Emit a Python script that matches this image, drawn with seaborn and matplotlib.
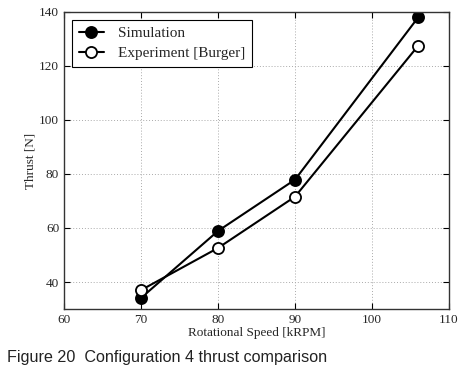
import matplotlib
matplotlib.use("Agg")
import matplotlib.pyplot as plt
import seaborn as sns
import pandas as pd

# data
speed = [70, 80, 90, 106]
thrust_sim = [34.1, 58.9, 77.9, 138.0]
thrust_exp = [37.0, 52.6, 71.6, 127.5]

veri = pd.DataFrame({"speed": speed, "sim": thrust_sim, "exp": thrust_exp})

sns.set_style("ticks")
plt.rcParams["font.family"] = ["Liberation Serif", "DejaVu Serif"]

fig = plt.figure(figsize=(4.62, 3.71), dpi=100)
ax = fig.add_axes([0.1385, 0.167, 0.8335, 0.801])

sns.lineplot(data=veri, x="speed", y="sim", ax=ax, color="black", lw=1.5,
             marker="o", markersize=8, markerfacecolor="black",
             markeredgecolor="black", markeredgewidth=1.3, label="Simulation")
sns.lineplot(data=veri, x="speed", y="exp", ax=ax, color="black", lw=1.5,
             marker="o", markersize=8, markerfacecolor="white",
             markeredgecolor="black", markeredgewidth=1.3,
             label="Experiment [Burger]")

ax.set_xlim(60, 110)
ax.set_ylim(30, 140)
ax.set_xticks([60, 70, 80, 90, 100, 110])
ax.set_yticks([40, 60, 80, 100, 120, 140])
ax.grid(True, ls=(0, (1, 2)), color="#aaaaaa", lw=0.7)
ax.tick_params(direction="in", length=4, labelsize=9.5, color="black",
               top=True, right=True)
for s in ax.spines.values():
    s.set_color("#333333")
    s.set_linewidth(1.0)

ax.set_xlabel("Rotational Speed [kRPM]", fontsize=9.5, labelpad=1)
ax.set_ylabel("Thrust [N]", fontsize=9.5, labelpad=2)

leg = ax.legend(loc="upper left", fontsize=11, frameon=True, fancybox=False,
                edgecolor="black", framealpha=1, borderaxespad=0.5,
                handlelength=1.7, handletextpad=0.9, labelspacing=0.4,
                borderpad=0.45)
leg.get_frame().set_linewidth(0.8)

fig.text(0.015, 0.025, "Figure 20  Configuration 4 thrust comparison",
         fontsize=11.6, family=["Liberation Sans", "DejaVu Sans"], color="#222222")

fig.savefig("out.png", dpi=100)
